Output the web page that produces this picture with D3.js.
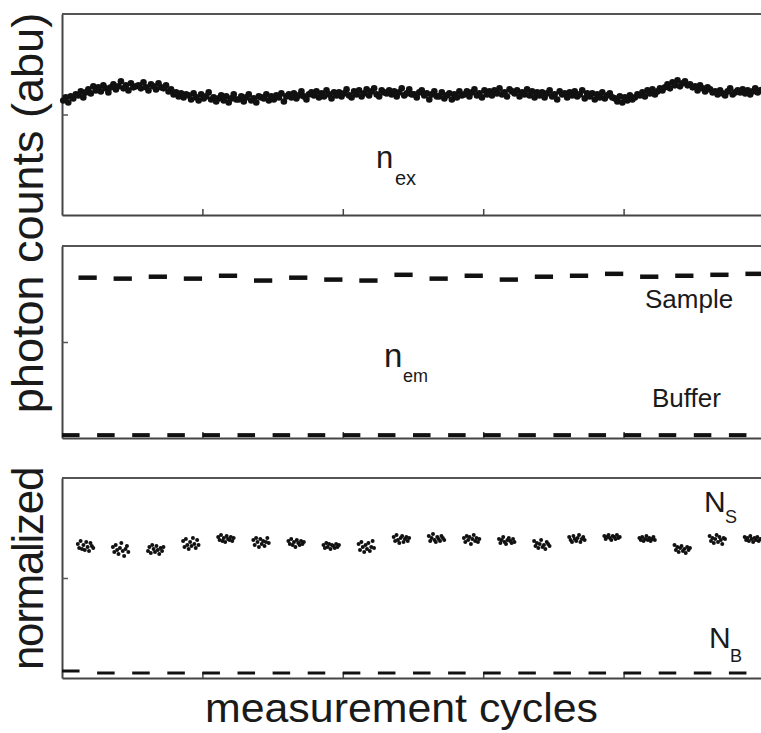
<!DOCTYPE html>
<html>
<head>
<meta charset="utf-8">
<script src="https://cdn.jsdelivr.net/npm/d3@7"></script>
<style>
  body { margin: 0; background: #fff; }
  text { font-family: "Liberation Sans", Arial, sans-serif; fill: #1a1a1a; }
</style>
</head>
<body>
<div id="chart"></div>
<script>
// measurement cycles, photon counts (abu) and normalized signals

const cycleTicks = [4, 8, 12, 16];
const yTicks = [100];

// excitation counts n_ex
const nEx = [
	114,117,112,118,116,120,119,123,117,122,
	125,121,128,124,127,123,129,126,122,127,
	130,125,128,133,126,129,124,131,127,128,
	129,126,132,127,124,130,128,125,131,127,
	126,129,123,125,120,122,118,121,117,120,
	119,115,121,117,114,120,116,118,122,115,
	117,113,116,119,114,118,112,116,120,115,
	115,118,113,117,120,114,116,112,118,117,
	116,120,114,118,115,119,117,121,113,118,
	120,117,121,116,119,123,118,115,120,122,
	119,123,117,121,118,124,120,116,122,119,
	122,118,121,125,119,117,123,120,124,118,
	121,125,119,123,126,120,118,124,122,121,
	124,120,123,118,122,126,119,121,125,120,
	120,117,122,124,119,121,115,120,123,118,
	118,122,116,119,121,115,120,117,123,119,
	120,123,118,122,125,119,121,117,124,120,
	123,119,124,121,126,120,122,118,125,123,
	121,124,118,122,120,125,119,123,117,122,
	119,122,117,121,124,118,120,115,123,120,
	121,117,122,119,123,118,120,124,116,121,
	118,121,115,120,117,122,116,119,121,117,
	116,113,118,112,117,114,119,115,117,120,
	119,122,118,124,121,125,120,123,126,124,
	127,130,126,132,129,134,128,131,133,129,
	130,127,128,124,129,126,123,127,125,122,
	123,120,124,121,119,123,126,120,122,124,
	122,125,121,124,120,123,126,122,124,125
];

// emission counts per cycle
const sampleEm = [167,166,168,166,169,164,167,165,164,170,166,169,165,168,169,171,168,169,170,171];
const bufferEm = [3,3,3,3,3,3,3,3,3,3,3,3,3,3,3,3,3,3,3,3];

// normalized sample N_S, readings within each cycle
const nS = [
	[134,130,137,129,133,128,136,131,127,135,132,130],
	[131,126,133,128,124,130,135,127,122,129,132,126],
	[127,131,125,133,129,126,132,128,124,130,127,131],
	[137,131,139,133,129,136,132,140,134,130,138,133],
	[141,138,143,137,140,136,142,139,138,141,137,140],
	[138,133,140,136,131,139,134,137,132,136,140,135],
	[137,134,139,133,136,131,138,135,133,137,134,136],
	[133,130,135,131,134,129,133,132,130,134,131,133],
	[134,128,136,131,126,133,129,135,127,131,137,130],
	[141,137,143,138,135,140,142,136,139,141,137,140],
	[142,137,140,144,138,136,141,139,137,142,140,138],
	[140,136,142,138,141,134,139,143,137,140,136,139],
	[139,135,138,141,136,134,138,140,137,135,139,136],
	[137,132,135,130,134,138,131,133,129,136,134,132],
	[141,138,136,142,139,137,140,143,136,139,141,138],
	[142,139,141,143,140,138,142,141,139,143,140,141],
	[140,138,141,137,139,142,138,140,137,139,141,138],
	[133,128,131,126,130,132,127,129,125,131,128,130],
	[142,137,140,135,139,143,136,141,138,134,140,139],
	[141,138,140,137,142,139,136,140,138,141,137,139]
];
// normalized buffer N_B
const nB = [7,5,5,5,5,5,5,5,5,5,5,5,5,5,5,5,5,5,5,5];

main();

function main() {
	const width = 761;
	const height = 733;

	const svg = d3.select("#chart").append("svg")
		.attr("width", width)
		.attr("height", height);

	const x = d3.scaleLinear().domain([0, 20]).range([62, 764]);
	const panels = [
		{ top: 14, bottom: 215 },
		{ top: 246, bottom: 438 },
		{ top: 478, bottom: 678 }
	];
	const ys = panels.map(p => d3.scaleLinear().domain([0, 200]).range([p.bottom, p.top]));

	// frames and axes
	panels.forEach((p, k) => {
		const g = svg.append("g");
		g.append("line")
			.attr("x1", 62).attr("x2", width)
			.attr("y1", p.top).attr("y2", p.top)
			.attr("stroke", "#555").attr("stroke-width", 2);

		g.append("g")
			.attr("transform", `translate(0,${p.bottom})`)
			.call(d3.axisBottom(x).tickValues(cycleTicks).tickSizeInner(-6).tickSizeOuter(0).tickFormat(""))
			.call(a => a.select(".domain").attr("stroke", "#444").attr("stroke-width", 2))
			.call(a => a.selectAll(".tick line").attr("stroke", "#444").attr("stroke-width", 1.5));

		g.append("g")
			.attr("transform", "translate(62,0)")
			.call(d3.axisLeft(ys[k]).tickValues(yTicks).tickSizeInner(-6).tickSizeOuter(0).tickFormat(""))
			.call(a => a.select(".domain").attr("stroke", "#444").attr("stroke-width", 2))
			.call(a => a.selectAll(".tick line").attr("stroke", "#555").attr("stroke-width", 1.5));
	});

	// n_ex trace
	const step = 20 / nEx.length;
	svg.append("g")
		.attr("fill", "#111")
		.selectAll("circle")
		.data(nEx)
		.join("circle")
			.attr("cx", (d, i) => x(i * step + step / 2))
			.attr("cy", d => ys[0](d))
			.attr("r", 3.3);

	// n_em dashes
	const dash = (g, data, y, offset, len, w) => g.append("g")
		.attr("stroke", "#111")
		.attr("stroke-width", w)
		.selectAll("line")
		.data(data)
		.join("line")
			.attr("x1", (d, i) => x(i + offset))
			.attr("x2", (d, i) => x(i + offset + len))
			.attr("y1", d => y(d))
			.attr("y2", d => y(d));

	dash(svg, sampleEm, ys[1], 0.47, 0.52, 4.5);
	dash(svg, bufferEm, ys[1], 0.0, 0.5, 4);

	// N_S clusters
	svg.append("g")
		.attr("fill", "#111")
		.selectAll("g")
		.data(nS)
		.join("g")
		.selectAll("circle")
		.data((d, i) => d.map((v, j) => ({ c: i, j: j, v: v })))
		.join("circle")
			.attr("cx", d => x(d.c + 0.45 + d.j * 0.04))
			.attr("cy", d => ys[2](d.v))
			.attr("r", 2);

	dash(svg, nB, ys[2], 0.0, 0.5, 3);

	// labels
	svg.append("text")
		.attr("transform", "translate(43,213) rotate(-90)")
		.attr("text-anchor", "middle")
		.attr("font-size", 45)
		.text("photon counts (abu)");

	svg.append("text")
		.attr("transform", "translate(43,569) rotate(-90)")
		.attr("text-anchor", "middle")
		.attr("font-size", 44)
		.attr("letter-spacing", -1.3)
		.text("normalized");

	svg.append("text")
		.attr("x", 205).attr("y", 722)
		.attr("font-size", 40)
		.attr("textLength", 393)
		.attr("lengthAdjust", "spacingAndGlyphs")
		.text("measurement cycles");

	const sub = (xp, yp, size, main, subx, suby, subsize, s) => {
		svg.append("text").attr("x", xp).attr("y", yp).attr("font-size", size).text(main);
		svg.append("text").attr("x", subx).attr("y", suby).attr("font-size", subsize).text(s);
	};
	sub(376, 168, 31, "n", 395, 185, 20, "ex");
	sub(384, 367, 33, "n", 403, 382, 18, "em");
	sub(704, 512, 30, "N", 725, 523, 18, "S");
	sub(709, 648, 30, "N", 730, 662, 18, "B");

	svg.append("text").attr("x", 645).attr("y", 308).attr("font-size", 26).text("Sample");
	svg.append("text").attr("x", 652).attr("y", 407).attr("font-size", 26).text("Buffer");
}
</script>
</body>
</html>
